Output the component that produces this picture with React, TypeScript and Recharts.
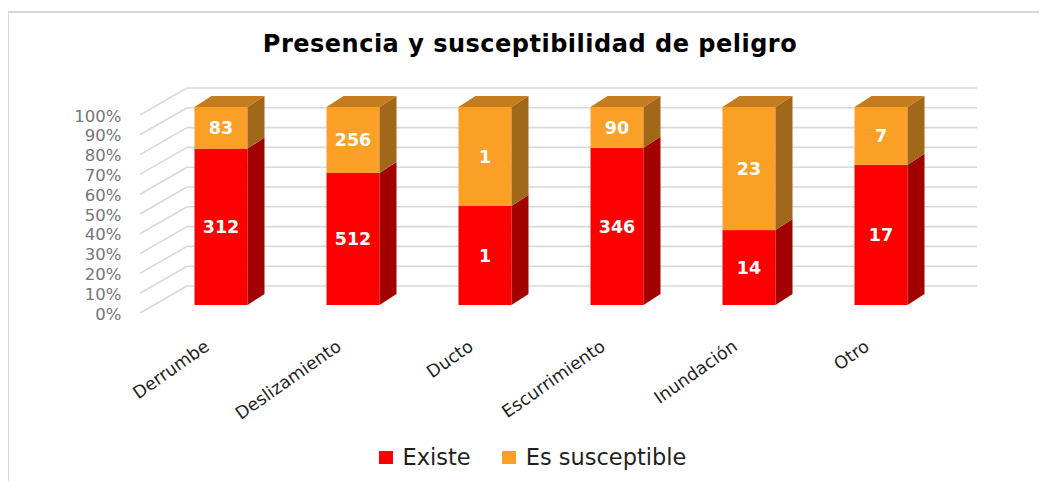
import React from 'react';
import { BarChart, Bar, XAxis, YAxis, CartesianGrid, Legend, LabelList } from 'recharts';

const categories = ['Derrumbe', 'Deslizamiento', 'Ducto', 'Escurrimiento', 'Inundación', 'Otro'];
const existe = [312, 512, 1, 346, 14, 17];
const susceptible = [83, 256, 1, 90, 23, 7];
const yTicks = [0, 0.1, 0.2, 0.3, 0.4, 0.5, 0.6, 0.7, 0.8, 0.9, 1];
const seriesNames = ['Existe', 'Es susceptible'];

const data = categories.map((c, i) => ({ name: c, existe: existe[i], susceptible: susceptible[i] }));

const FONT = '"DejaVu Sans", Verdana, sans-serif';
const DX = 17;
const DY = 11;
const GRID = '#d9d9d9';

const RED = { front: '#ff0000', side: '#a30000', top: '#c00000' };
const ORANGE = { front: '#fba026', side: '#a2681a', top: '#c47c1f' };

function make3DShape(c: { front: string; side: string; top: string }, drawTop: boolean) {
  return (props: any) => {
    const { x, y, width, height } = props;
    if (x == null || y == null || !width || height == null) return <g />;
    const h = Math.abs(height);
    const yt = height >= 0 ? y : y + height;
    return (
      <g>
        <rect x={x} y={yt} width={width} height={h} fill={c.front} />
        <polygon
          points={`${x + width},${yt} ${x + width + DX},${yt - DY} ${x + width + DX},${yt + h - DY} ${x + width},${yt + h}`}
          fill={c.side}
        />
        {drawTop && (
          <polygon
            points={`${x},${yt} ${x + DX},${yt - DY} ${x + width + DX},${yt - DY} ${x + width},${yt}`}
            fill={c.top}
          />
        )}
      </g>
    );
  };
}

const redShape = make3DShape(RED, false);
const orangeShape = make3DShape(ORANGE, true);

const gridLine = (props: any) => {
  const { x1, x2, y1, index } = props;
  return (
    <g key={`g-${index}-${y1}`}>
      <line x1={x1 - 14.5} y1={y1 + 8} x2={x1 + 32.5} y2={y1 - 19} stroke={GRID} strokeWidth={1.6} />
      <line x1={x1 + 32.5} y1={y1 - 19} x2={x2 + 30.5} y2={y1 - 19} stroke={GRID} strokeWidth={1.6} />
    </g>
  );
};

const YTick = (props: any) => {
  const { x, y, payload } = props;
  return (
    <text x={x} y={y + 9} textAnchor="end" dominantBaseline="central" fill="#767676" fontSize={16.5} fontFamily={FONT}>
      {`${Math.round(payload.value * 100)}%`}
    </text>
  );
};

const XTick = (props: any) => {
  const { x, y, payload } = props;
  return (
    <text
      transform={`translate(${x - 10},${y + 44}) rotate(-35)`}
      textAnchor="end"
      fill="#1f1f1f"
      fontSize={17.5}
      fontFamily={FONT}
    >
      {payload.value}
    </text>
  );
};

const renderLegend = (props: any) => {
  const payload = [...(props.payload || [])].sort(
    (a: any, b: any) => seriesNames.indexOf(a.value) - seriesNames.indexOf(b.value)
  );
  return (
    <div style={{ display: 'flex', justifyContent: 'center', alignItems: 'center', height: 26 }}>
      {payload.map((p: any, i: number) => (
        <div key={i} style={{ display: 'flex', alignItems: 'center', marginLeft: i > 0 ? 31 : 0 }}>
          <div style={{ width: 14, height: 13, background: p.color, marginRight: 10 }} />
          <span style={{ fontFamily: FONT, fontSize: 22.5, color: '#1f1f1f', lineHeight: '26px' }}>{p.value}</span>
        </div>
      ))}
    </div>
  );
};

const labelStyle = { fill: '#ffffff', fontSize: 17.5, fontWeight: 700, fontFamily: FONT } as any;

export default function App() {
  return (
    <div style={{ position: 'relative', width: 1039, height: 473, overflow: 'hidden', background: '#fff' }}>
      <div
        style={{
          position: 'absolute',
          left: -1,
          top: 3,
          width: 1100,
          height: 520,
          borderLeft: `2px solid ${GRID}`,
          borderTop: `2px solid ${GRID}`,
        }}
      />
      <div
        style={{
          position: 'absolute',
          left: 0,
          top: 22,
          width: 1044,
          textAlign: 'center',
          fontFamily: FONT,
          fontWeight: 700,
          fontSize: 24,
          lineHeight: '28px',
          letterSpacing: 0.5,
          color: '#000',
        }}
      >
        Presencia y susceptibilidad de peligro
      </div>
      <BarChart
        width={1039}
        height={473}
        data={data}
        stackOffset="expand"
        margin={{ top: 99, left: 86.5, right: 100.5, bottom: 76 }}
        style={{ position: 'absolute', left: 0, top: 0 }}
      >
        <CartesianGrid vertical={false} horizontal={gridLine} />
        <XAxis
          dataKey="name"
          axisLine={false}
          tickLine={false}
          tickSize={0}
          tickMargin={0}
          interval={0}
          height={100}
          tick={XTick}
        />
        <YAxis
          width={60}
          domain={[0, 1]}
          ticks={yTicks}
          interval={0}
          axisLine={false}
          tickLine={false}
          tickSize={0}
          tickMargin={33}
          tick={YTick}
        />
        <Legend
          layout="horizontal"
          verticalAlign="middle"
          align="center"
          content={renderLegend}
          wrapperStyle={{ top: 436, left: -2, width: 1053 }}
        />
        <Bar
          dataKey="existe"
          name={seriesNames[0]}
          stackId="a"
          fill={RED.front}
          barSize={53}
          shape={redShape}
          isAnimationActive={false}
        >
          <LabelList dataKey="existe" position="center" style={labelStyle} />
        </Bar>
        <Bar
          dataKey="susceptible"
          name={seriesNames[1]}
          stackId="a"
          fill={ORANGE.front}
          barSize={53}
          shape={orangeShape}
          isAnimationActive={false}
        >
          <LabelList dataKey="susceptible" position="center" style={labelStyle} />
        </Bar>
      </BarChart>
    </div>
  );
}
